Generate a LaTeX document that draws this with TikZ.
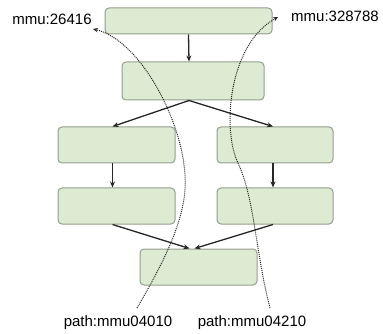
\documentclass[tikz,border=0pt]{standalone}
\usepackage{fontspec}
\setmainfont{Liberation Sans}
\usetikzlibrary{arrows.meta}
\definecolor{boxfill}{HTML}{DDEBD3}
\definecolor{boxline}{HTML}{949E8C}
\begin{document}
\begin{tikzpicture}[x=1pt,y=-1pt,
  box/.style={draw=boxline,fill=boxfill,rounded corners=4pt,line width=1pt,inner sep=0pt},
  link/.style={-{Stealth[length=6pt,width=5pt]},line width=1.3pt,draw=black!85},
  trail/.style={-{Stealth[length=5pt,width=4.5pt]},dash pattern=on 1pt off 1pt,line width=1pt,draw=black!85},
  lab/.style={font=\fontsize{15}{17}\selectfont,inner sep=0pt}]
\useasboundingbox (0,0) rectangle (383,334);
\node[box,minimum width=167pt,minimum height=26pt] (A) at (188.5,21) {};
\node[box,minimum width=142pt,minimum height=38pt] (B) at (193,81) {};
\node[box,minimum width=117pt,minimum height=36pt] (C) at (116.5,145) {};
\node[box,minimum width=116pt,minimum height=36pt] (D) at (275,145) {};
\node[box,minimum width=117pt,minimum height=36pt] (E) at (116.5,206) {};
\node[box,minimum width=116pt,minimum height=36pt] (F) at (275,206) {};
\node[box,minimum width=117pt,minimum height=36pt] (G) at (198.5,267) {};
\node[lab] (l1) at (52,19) {mmu:26416};
\node[lab] (l2) at (335,16) {mmu:328788};
\node[lab] (l3) at (118,323) {path:mmu04010};
\node[lab] (l4) at (252,323) {path:mmu04210};
\coordinate (s1) at (137,308);
\coordinate (e1) at (93,29);
\coordinate (s2) at (270,308);
\coordinate (e2) at (278,17);
\draw[link] ([xshift=0pt]A.south) -- ([xshift=-4pt]B.north);
\draw[link] ([xshift=-4pt]B.south) -- ([xshift=-4pt]C.north);
\draw[link] ([xshift=-4pt]B.south) -- ([xshift=-2pt]D.north);
\draw[link] ([xshift=-4pt]C.south) -- ([xshift=-4pt]E.north);
\draw[link] ([xshift=-2pt]D.south) -- ([xshift=-2pt]F.north);
\draw[link] ([xshift=-4pt]E.south) -- ([xshift=-9pt]G.north);
\draw[link] ([xshift=-2pt]F.south) -- ([xshift=-4pt]G.north);
\draw[trail] (s1) .. controls (165,260) and (188,215) .. (185,175) .. controls (182,120) and (140,40) .. (e1);
\draw[trail] (s2) .. controls (255,250) and (255,200) .. (238,163) .. controls (222,130) and (228,45) .. (e2);
\end{tikzpicture}
\end{document}
